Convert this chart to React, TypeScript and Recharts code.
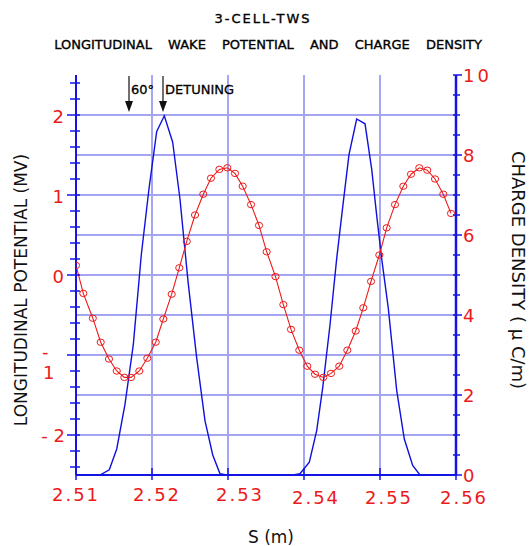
import React from "react";
import {
  ComposedChart,
  Line,
  XAxis,
  YAxis,
  CartesianGrid,
} from "recharts";

// axis ticks and labels
const sTicks = [2.51, 2.52, 2.53, 2.54, 2.55, 2.56];
const sGrid = [2.52, 2.53, 2.54, 2.55];
const potentialTicks = [
  -2.4, -2.2, -2, -1.8, -1.6, -1.4, -1.2, -1, -0.8, -0.6, -0.4, -0.2, 0,
  0.2, 0.4, 0.6, 0.8, 1, 1.2, 1.4, 1.6, 1.8, 2, 2.2, 2.4,
];
const potentialLabels = [-2, -1, 0, 1, 2];
const potentialGrid = [-2, -1.5, -1, -0.5, 0, 0.5, 1, 1.5, 2];
const chargeTicks = [
  0, 0.5, 1, 1.5, 2, 2.5, 3, 3.5, 4, 4.5, 5, 5.5, 6, 6.5, 7, 7.5, 8, 8.5, 9,
  9.5, 10,
];
const chargeLabels = [0, 2, 4, 6, 8, 10];

// wake potential (MV), circles
const sWake = [
  2.51, 2.51096, 2.51221, 2.51325, 2.51434, 2.51536, 2.51636, 2.51724,
  2.51833, 2.51938, 2.52049, 2.52149, 2.52259, 2.52359, 2.52457, 2.52566,
  2.52675, 2.52776, 2.52886, 2.52991, 2.53092, 2.53193, 2.53303, 2.53408,
  2.53509, 2.53625, 2.53728, 2.53829, 2.53938, 2.54043, 2.54145, 2.54254,
  2.54355, 2.54464, 2.5457, 2.5468, 2.5478, 2.54882, 2.54991, 2.55088,
  2.55197, 2.55307, 2.55408, 2.55517, 2.55622, 2.55724, 2.55833, 2.55934,
];
const wake = [
  0.12, -0.23, -0.54, -0.84, -1.05, -1.2, -1.28, -1.28, -1.2, -1.04, -0.84,
  -0.55, -0.24, 0.09, 0.42, 0.75, 1.01, 1.21, 1.32, 1.34, 1.27, 1.11, 0.88,
  0.62, 0.29, -0.02, -0.37, -0.68, -0.94, -1.14, -1.24, -1.28, -1.23, -1.14,
  -0.94, -0.7, -0.41, -0.08, 0.25, 0.59, 0.88, 1.11, 1.26, 1.34, 1.31, 1.2,
  1.01, 0.77,
];

// charge density (uC/m)
const sCharge = [
  2.51, 2.51316, 2.51438, 2.51536, 2.51645, 2.51754, 2.51859, 2.5196,
  2.52062, 2.52162, 2.52272, 2.52368, 2.52474, 2.52588, 2.52697, 2.52799,
  2.52895, 2.52983, 2.53855, 2.53947, 2.5407, 2.54167, 2.54246, 2.54342,
  2.5443, 2.54517, 2.54592, 2.54693, 2.54803, 2.54891, 2.54957, 2.55022,
  2.55109, 2.5522, 2.5532, 2.5543, 2.55526, 2.56,
];
const charge = [
  0, 0, 0.13, 0.65, 1.77, 3.26, 5.5, 7.15, 8.59, 8.98, 8.32, 6.9, 4.84, 2.93,
  1.36, 0.5, 0.03, 0, 0, 0.03, 0.32, 1.11, 2.18, 3.75, 5.41, 6.82, 8.01, 8.9,
  8.78, 7.64, 6.48, 5.41, 4.17, 2.11, 0.9, 0.24, 0, 0,
];

const wakeData = sWake.map((s, i) => ({ s, v: wake[i] }));
const chargeData = sCharge.map((s, i) => ({ s, q: charge[i] }));

const BLUE = "#1414e6";
const RED = "#ec1a1a";
const FONT = "'DejaVu Sans', Verdana, sans-serif";

function LeftTick(props: any) {
  const { x, y, payload } = props;
  const v = payload.value as number;
  const major = potentialLabels.includes(v);
  let label: React.ReactNode = null;
  if (v === -1) {
    // the original splits "-1" over two lines
    label = (
      <text fill={RED} fontSize={18} fontFamily={FONT}>
        <tspan x={x - 34} y={y + 3}>-</tspan>
        <tspan x={x - 33} y={y + 24}>1</tspan>
      </text>
    );
  } else if (v === -2) {
    label = (
      <text x={x - 11} y={y + 7} textAnchor="end" fill={RED} fontSize={18} fontFamily={FONT}>
        - 2
      </text>
    );
  } else if (major) {
    label = (
      <text x={x - 12} y={y + 8} textAnchor="end" fill={RED} fontSize={18} fontFamily={FONT}>
        {v}
      </text>
    );
  }
  return (
    <g>
      <line x1={x - (major ? 9 : 6)} x2={x + 4} y1={y} y2={y} stroke={BLUE} strokeWidth={1.5} />
      {label}
    </g>
  );
}

function RightTick(props: any) {
  const { x, y, payload } = props;
  const v = payload.value as number;
  const major = chargeLabels.includes(v);
  return (
    <g>
      <line x1={x - 3} x2={x + (major ? 6 : 4)} y1={y} y2={y} stroke={BLUE} strokeWidth={1.5} />
      {major && (
        <text x={x + 7} y={y + 7} fill={RED} fontSize={18} fontFamily={FONT} letterSpacing={3}>
          {v}
        </text>
      )}
    </g>
  );
}

// label nudges seen in the original plot
const bottomDx = [0, 5, 12, 12, 9, 8];
const bottomDy = [0, 0, 0, 3, 3, 3];

function BottomTick(props: any) {
  const { x, y, payload, index } = props;
  return (
    <g>
      <line x1={x} x2={x} y1={y - 7} y2={y + 5} stroke={BLUE} strokeWidth={1.5} />
      <text
        x={x + (bottomDx[index] ?? 0)}
        y={y + 26 + (bottomDy[index] ?? 0)}
        textAnchor="middle"
        fill={RED}
        fontSize={18}
        fontFamily={FONT}
        letterSpacing={2}
      >
        {payload.value.toFixed(2)}
      </text>
    </g>
  );
}

function TopTick(props: any) {
  const { x, y } = props;
  return <line x1={x} x2={x} y1={y - 5} y2={y + 4} stroke={BLUE} strokeWidth={1.5} />;
}

function Ring(props: any) {
  const { cx, cy, index } = props;
  if (cx == null || cy == null) return null;
  return (
    <ellipse key={index} cx={cx} cy={cy} rx={3.6} ry={3.2} fill="none" stroke={RED} strokeWidth={1} />
  );
}

export default function App() {
  return (
    <div
      style={{
        position: "absolute",
        left: 0,
        top: 0,
        width: 529,
        height: 546,
        background: "#fff",
        fontFamily: FONT,
      }}
    >
      <ComposedChart
        width={529}
        height={546}
        margin={{ top: 75, right: 0, bottom: 0, left: 0 }}
      >
        <CartesianGrid
          horizontal={false}
          verticalValues={sGrid}
          stroke="#7676f2"
          strokeWidth={1.3}
        />
        <CartesianGrid
          vertical={false}
          yAxisId="left"
          horizontalValues={potentialGrid}
          stroke="#a4a4f0"
          strokeWidth={2}
        />
        <XAxis
          dataKey="s"
          type="number"
          domain={[2.51, 2.56]}
          ticks={sTicks}
          interval={0}
          height={71}
          tickSize={0}
          tickMargin={0}
          tickLine={false}
          axisLine={{ stroke: BLUE, strokeWidth: 2 }}
          tick={BottomTick}
          allowDataOverflow
        />
        <XAxis
          xAxisId="top"
          orientation="top"
          dataKey="s"
          type="number"
          domain={[2.51, 2.56]}
          ticks={sTicks}
          interval={0}
          height={0}
          tickSize={0}
          tickMargin={0}
          tickLine={false}
          axisLine={{ stroke: BLUE, strokeWidth: 2 }}
          tick={TopTick}
        />
        <YAxis
          yAxisId="left"
          type="number"
          domain={[-2.5, 2.5]}
          ticks={potentialTicks}
          interval={0}
          width={76}
          tickSize={0}
          tickMargin={0}
          tickLine={false}
          axisLine={{ stroke: BLUE, strokeWidth: 2 }}
          tick={LeftTick}
          allowDataOverflow
        />
        <YAxis
          yAxisId="right"
          orientation="right"
          type="number"
          domain={[0, 10]}
          ticks={chargeTicks}
          interval={0}
          width={73}
          tickSize={0}
          tickMargin={0}
          tickLine={false}
          axisLine={{ stroke: BLUE, strokeWidth: 2.5 }}
          tick={RightTick}
          allowDataOverflow
        />
        <Line
          yAxisId="right"
          data={chargeData}
          dataKey="q"
          type="linear"
          stroke="#1010dd"
          strokeWidth={1.4}
          dot={false}
          activeDot={false}
          isAnimationActive={false}
        />
        <Line
          yAxisId="left"
          data={wakeData}
          dataKey="v"
          type="linear"
          stroke={RED}
          strokeWidth={1.1}
          dot={Ring}
          activeDot={false}
          isAnimationActive={false}
        />
      </ComposedChart>

      <svg
        width={529}
        height={546}
        style={{ position: "absolute", left: 0, top: 0, pointerEvents: "none" }}
      >
        <text x={263} y={23} textAnchor="middle" fontSize={13} fontFamily={FONT} letterSpacing={2} fill="#000" stroke="#000" strokeWidth={0.35}>
          3-CELL-TWS
        </text>
        <text x={268} y={49} textAnchor="middle" fontSize={13} fontFamily={FONT} wordSpacing={12} fill="#000" stroke="#000" strokeWidth={0.35}>
          LONGITUDINAL WAKE POTENTIAL AND CHARGE DENSITY
        </text>

        <line x1={129} y1={76} x2={129} y2={102} stroke="#111" strokeWidth={1.2} />
        <path d="M125,101 L133,101 L129,112 Z" fill="#111" />
        <line x1={163} y1={76} x2={163} y2={102} stroke="#111" strokeWidth={1.2} />
        <path d="M159,101 L167,101 L163,112 Z" fill="#111" />
        <text x={131} y={94} fontSize={13} fontFamily={FONT} fill="#000" stroke="#000" strokeWidth={0.3}>60°</text>
        <text x={165} y={94} fontSize={13} fontFamily={FONT} fill="#000" stroke="#000" strokeWidth={0.3}>DETUNING</text>

        <text
          x={27}
          y={290}
          transform="rotate(-90 27 290)"
          textAnchor="middle"
          fontSize={17}
          fontFamily={FONT}
          fill="#111"
        >
          LONGITUDINAL POTENTIAL (MV)
        </text>
        <text
          x={512}
          y={270}
          transform="rotate(90 512 270)"
          textAnchor="middle"
          fontSize={18}
          fontFamily={FONT}
          fill="#111"
        >
          CHARGE DENSITY ( μ C/m)
        </text>
        <text x={271} y={543} textAnchor="middle" fontSize={17} fontFamily={FONT} fill="#111">
          S (m)
        </text>
      </svg>
    </div>
  );
}
